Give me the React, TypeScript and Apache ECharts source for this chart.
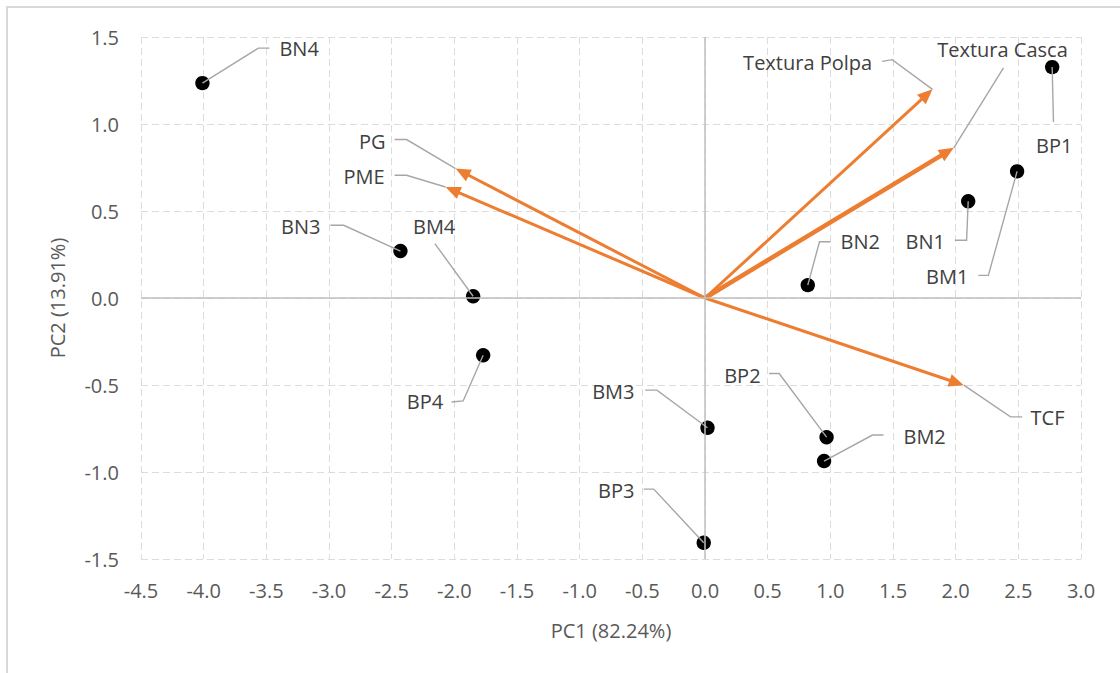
import React, { useEffect, useRef } from "react";
import * as echarts from "echarts";

// ---- Data ----
const sampleNames = ["BN1", "BN2", "BN3", "BN4", "BM1", "BM2", "BM3", "BM4", "BP1", "BP2", "BP3", "BP4"];
const samplePC1 = [2.10, 0.82, -2.43, -4.01, 2.49, 0.95, 0.02, -1.85, 2.77, 0.97, -0.01, -1.77];
const samplePC2 = [0.556, 0.074, 0.27, 1.235, 0.728, -0.937, -0.746, 0.01, 1.327, -0.80, -1.407, -0.329];

const variableNames = ["Textura Polpa", "Textura Casca", "PG", "PME", "TCF"];
const loadPC1 = [1.815, 1.985, -1.99, -2.07, 2.065];
const loadPC2 = [1.199, 0.863, 0.744, 0.638, -0.501];

const xTicks = { min: -4.5, max: 3.0, step: 0.5 };
const yTicks = { min: -1.5, max: 1.5, step: 0.5 };
const xTitle = "PC1 (82.24%)";
const yTitle = "PC2 (13.91%)";

// ---- Label placement (pixel offsets from the mark) ----
type Lay = { leader: number[][]; label: number[]; align: string };
const sampleLayout: Record<string, Lay> = {
  BN4: { leader: [[56, -35], [67, -35]], label: [77, -35], align: "left" },
  BP1: { leader: [[1.3, 55]], label: [2, 78], align: "center" },
  BM1: { leader: [[-28.7, 104], [-38.7, 104]], label: [-48.7, 105], align: "right" },
  BN1: { leader: [[-1.6, 39], [-13.3, 39]], label: [-23.3, 40], align: "right" },
  BN2: { leader: [[11.7, -43.3], [22.7, -43.3]], label: [32.7, -43.3], align: "left" },
  BN3: { leader: [[-56.7, -25.7], [-70, -25.7]], label: [-80, -25], align: "right" },
  BM4: { leader: [[-38.3, -52.7]], label: [-39, -69.3], align: "center" },
  BP4: { leader: [[-20, 45.7], [-31.6, 46.7]], label: [-40, 46.7], align: "right" },
  BM3: { leader: [[-50.6, -37.7], [-62.3, -37.7]], label: [-73, -36.5], align: "right" },
  BP3: { leader: [[-50, -53.7], [-60, -53.7]], label: [-69.3, -52], align: "right" },
  BP2: { leader: [[-47.4, -63.7], [-57.4, -63.7]], label: [-66, -62], align: "right" },
  BM2: { leader: [[48.4, -26], [59.4, -26]], label: [79.4, -24.5], align: "left" },
};
const variableLayout: Record<string, Lay> = {
  "Textura Polpa": { leader: [[-40.3, -29.7], [-50.3, -28]], label: [-60.3, -27.3], align: "right" },
  "Textura Casca": { leader: [[49.7, -80]], label: [48.7, -98.7], align: "center" },
  PG: { leader: [[-49, -29], [-61, -29]], label: [-70, -27.5], align: "right" },
  PME: { leader: [[-39, -11.7], [-51, -11.7]], label: [-61, -10.5], align: "right" },
  TCF: { leader: [[46.7, 31.7], [58.4, 31.7]], label: [66.7, 32.3], align: "left" },
};

const FONT = "Open Sans";
const FS = 20;
const LEADER = "#a6a6a6";
const ORANGE = "#ED7D31";
const LABEL_COLOR = "#404040";
const AXIS_COLOR = "#595959";

export default function App() {
  const ref = useRef<HTMLDivElement>(null);
  useEffect(() => {
    if (!ref.current) return;
    const chart = echarts.init(ref.current, undefined, { renderer: "svg" });

    const sampleData = sampleNames.map((n, i) => [samplePC1[i], samplePC2[i]]);
    const varData = variableNames.map((n, i) => [loadPC1[i], loadPC2[i]]);

    const textEl = (x: number, y: number, text: string, align: string) => ({
      type: "text",
      x,
      y,
      z2: 10,
      style: {
        text,
        fill: LABEL_COLOR,
        fontSize: FS,
        fontFamily: FONT,
        align,
        verticalAlign: "middle",
      },
    });

    const renderSample = (params: any, api: any) => {
      const p = api.coord([api.value(0), api.value(1)]);
      const name = sampleNames[params.dataIndex];
      const L = sampleLayout[name];
      const pts = [[p[0], p[1]], ...L.leader.map(([dx, dy]) => [p[0] + dx, p[1] + dy])];
      return {
        type: "group",
        children: [
          { type: "circle", shape: { cx: p[0], cy: p[1], r: 7.2 }, style: { fill: "#000" } },
          { type: "polyline", shape: { points: pts }, style: { stroke: LEADER, lineWidth: 1.4, fill: null } },
          textEl(p[0] + L.label[0], p[1] + L.label[1], name, L.align),
        ],
      };
    };

    const renderVariable = (params: any, api: any) => {
      const o = api.coord([0, 0]);
      const t = api.coord([api.value(0), api.value(1)]);
      const name = variableNames[params.dataIndex];
      const L = variableLayout[name];
      const dx = t[0] - o[0];
      const dy = t[1] - o[1];
      const len = Math.sqrt(dx * dx + dy * dy);
      const ux = dx / len;
      const uy = dy / len;
      const headLen = 15;
      const headW = 6.5;
      const bx = t[0] - ux * headLen;
      const by = t[1] - uy * headLen;
      const nx = -uy;
      const ny = ux;
      const lw = name === "Textura Casca" ? 4.5 : 3;
      const pts = [[t[0], t[1]], ...L.leader.map(([ddx, ddy]) => [t[0] + ddx, t[1] + ddy])];
      return {
        type: "group",
        children: [
          {
            type: "line",
            shape: { x1: o[0], y1: o[1], x2: bx + ux * 2, y2: by + uy * 2 },
            style: { stroke: ORANGE, lineWidth: lw },
          },
          {
            type: "polygon",
            shape: { points: [[t[0], t[1]], [bx + nx * headW, by + ny * headW], [bx - nx * headW, by - ny * headW]] },
            style: { fill: ORANGE },
          },
          { type: "polyline", shape: { points: pts }, style: { stroke: LEADER, lineWidth: 1.4, fill: null } },
          textEl(t[0] + L.label[0], t[1] + L.label[1], name, L.align),
        ],
      };
    };

    const axisCommon = {
      type: "value",
      axisLine: { show: false },
      axisTick: { show: false },
      splitLine: { show: true, lineStyle: { color: "#dcdcdc", width: 1, type: [7, 4] } },
      axisLabel: {
        color: AXIS_COLOR,
        fontSize: FS,
        fontFamily: FONT,
        formatter: (v: number) => v.toFixed(1),
      },
      nameLocation: "middle",
      nameTextStyle: { color: AXIS_COLOR, fontSize: FS, fontFamily: FONT },
    };

    chart.setOption({
      animation: false,
      backgroundColor: "#fff",
      textStyle: { fontFamily: FONT },
      grid: { left: 141, top: 37, right: 39, bottom: 114, containLabel: false },
      xAxis: {
        ...axisCommon,
        min: xTicks.min,
        max: xTicks.max,
        interval: xTicks.step,
        axisLabel: { ...axisCommon.axisLabel, margin: 21 },
        name: xTitle,
        nameGap: 61,
      },
      yAxis: {
        ...axisCommon,
        min: yTicks.min,
        max: yTicks.max,
        interval: yTicks.step,
        axisLabel: { ...axisCommon.axisLabel, margin: 22 },
        name: yTitle,
        nameGap: 74,
      },
      graphic: [
        {
          type: "rect",
          shape: { x: 7, y: 7, width: 1300, height: 900 },
          style: { fill: null, stroke: "#d9d9d9", lineWidth: 2 },
          silent: true,
        },
      ],
      series: [
        {
          type: "line",
          data: [],
          z: 1,
          markLine: {
            silent: true,
            symbol: "none",
            label: { show: false },
            lineStyle: { type: "solid", color: "#bfbfbf", width: 1.5 },
            data: [{ xAxis: 0 }, { yAxis: 0 }],
          },
        },
        {
          type: "custom",
          z: 3,
          data: varData,
          renderItem: renderVariable,
          clip: false,
        },
        {
          type: "custom",
          z: 4,
          data: sampleData,
          renderItem: renderSample,
          clip: false,
        },
      ],
    });
    return () => chart.dispose();
  }, []);
  return <div ref={ref} style={{ position: "fixed", left: 0, top: 0, width: 1120, height: 673 }} />;
}
